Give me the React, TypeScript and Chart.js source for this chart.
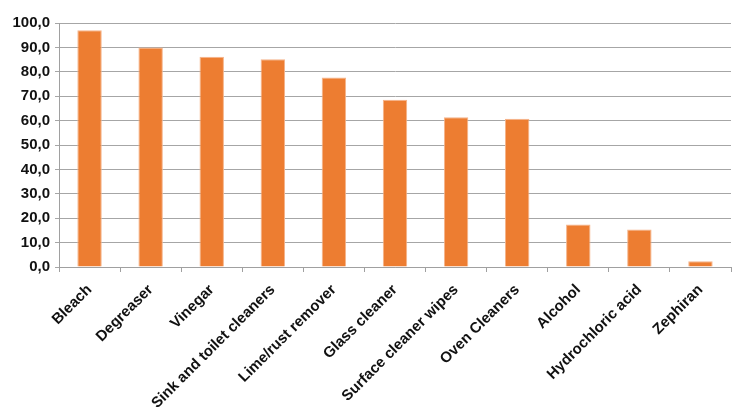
import React, { useEffect, useRef } from "react";
import { Chart, registerables } from "chart.js";

Chart.register(...registerables);

const categories = [
  "Bleach",
  "Degreaser",
  "Vinegar",
  "Sink and toilet cleaners",
  "Lime/rust remover",
  "Glass cleaner",
  "Surface cleaner wipes",
  "Oven Cleaners",
  "Alcohol",
  "Hydrochloric acid",
  "Zephiran",
];
const values = [97.0, 90.0, 86.2, 85.1, 77.7, 68.5, 61.4, 60.8, 17.4, 15.4, 2.4];
const yMin = 0;
const yMax = 100;
const yStep = 10;

export default function App() {
  const ref = useRef<HTMLCanvasElement>(null);
  useEffect(() => {
    if (!ref.current) return;
    const font = { family: "'Liberation Sans', Arial, sans-serif", size: 15, weight: "bold" as const };
    const chart = new Chart(ref.current, {
      type: "bar",
      data: {
        labels: categories,
        datasets: [
          {
            data: values,
            backgroundColor: "#ED7D31",
            borderColor: "#F5B48A",
            borderWidth: { top: 1, left: 1, right: 1, bottom: 0 },
            borderSkipped: "bottom",
            categoryPercentage: 1,
            barPercentage: 0.4,
          },
        ],
      },
      options: {
        responsive: false,
        animation: false,
        layout: { padding: { top: 23, right: 15, left: 0, bottom: 0 } },
        plugins: { legend: { display: false }, tooltip: { enabled: false } },
        scales: {
          x: {
            offset: true,
            grid: {
              offset: true,
              drawOnChartArea: false,
              drawTicks: true,
              tickLength: 5,
              color: "#a0a0a0",
            },
            border: { color: "#a0a0a0" },
            ticks: {
              minRotation: 45,
              maxRotation: 45,
              autoSkip: false,
              color: "#111",
              padding: 9,
              font,
            },
            afterFit: (scale: any) => {
              scale.height = 413 - 267;
            },
          },
          y: {
            min: yMin,
            max: yMax,
            grid: { color: "#a6a6a6", tickLength: 4 },
            border: { color: "#a0a0a0" },
            ticks: {
              stepSize: yStep,
              color: "#111",
              padding: 5,
              font,
              callback: (v: any) => Number(v).toFixed(1).replace(".", ","),
            },
            afterFit: (scale: any) => {
              scale.width = 59;
            },
          },
        },
      },
    });
    return () => chart.destroy();
  }, []);
  return (
    <div style={{ position: "fixed", left: 0, top: 0, width: 746, height: 413, background: "#fff" }}>
      <canvas ref={ref} width={746} height={413} />
    </div>
  );
}
